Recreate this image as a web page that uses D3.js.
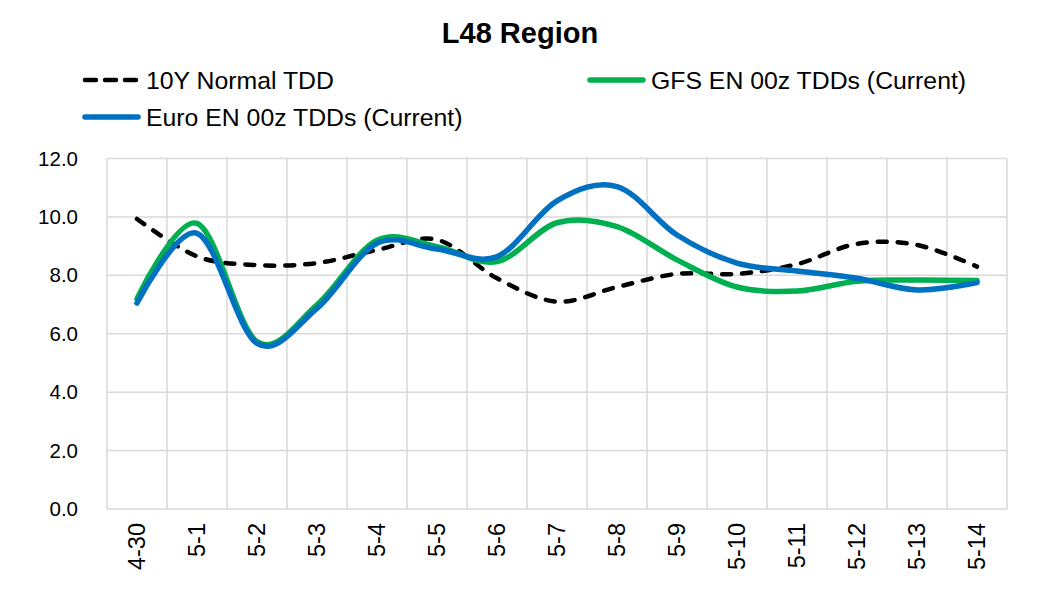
<!DOCTYPE html>
<html>
<head>
<meta charset="utf-8">
<script src="https://cdn.jsdelivr.net/npm/d3@7"></script>
<style>
  html, body { margin: 0; padding: 0; background: #fff; }
  svg { display: block; font-family: "Liberation Sans", Arial, sans-serif; }
</style>
</head>
<body>
<svg id="chart" width="1040" height="602"></svg>
<script>
const categories = ["4-30","5-1","5-2","5-3","5-4","5-5","5-6","5-7","5-8","5-9","5-10","5-11","5-12","5-13","5-14"];
const normalTDD = [9.93, 8.65, 8.35, 8.42, 8.87, 9.22, 7.9, 7.1, 7.6, 8.05, 8.05, 8.38, 9.08, 9.04, 8.3];
const gfsTDD    = [7.2, 9.78, 5.73, 6.99, 9.2, 8.98, 8.47, 9.8, 9.67, 8.53, 7.6, 7.46, 7.8, 7.84, 7.82];
const euroTDD   = [7.05, 9.44, 5.67, 6.87, 9.1, 8.9, 8.64, 10.55, 11.04, 9.38, 8.42, 8.15, 7.9, 7.5, 7.75];
const yTicks = [0, 2, 4, 6, 8, 10, 12];
const seriesNames = ["10Y Normal TDD", "GFS EN 00z TDDs (Current)", "Euro EN 00z TDDs (Current)"];

const svg = d3.select("#chart");
const x = d3.scaleBand().domain(categories).range([107, 1007]).padding(0);
const y = d3.scaleLinear().domain([0, 12]).range([509, 158.5]);
const cx = d => x(d) + x.bandwidth() / 2;

// gridlines
const grid = svg.append("g").attr("stroke", "#d9d9d9").attr("stroke-width", 1.5);
yTicks.forEach(t => {
  grid.append("line").attr("x1", 107).attr("x2", 1007).attr("y1", y(t)).attr("y2", y(t));
});
const edges = categories.map(c => x(c)).concat([x(categories[categories.length - 1]) + x.bandwidth()]);
edges.forEach(e => {
  grid.append("line").attr("x1", e).attr("x2", e).attr("y1", y(12)).attr("y2", y(0));
});

// y axis labels
const yAxis = d3.axisLeft(y).tickValues(yTicks).tickFormat(d3.format(".1f")).tickSize(0).tickPadding(29);
const ya = svg.append("g").attr("transform", "translate(107,0)").call(yAxis);
ya.select(".domain").remove();
ya.selectAll("text").attr("font-size", 20.5).attr("fill", "#000").attr("font-family", "Liberation Sans, Arial, sans-serif");

// x axis labels
const xa = svg.append("g");
categories.forEach(c => {
  xa.append("text")
    .attr("transform", `translate(${cx(c)},523) rotate(-90)`)
    .attr("text-anchor", "end")
    .attr("dominant-baseline", "central")
    .attr("font-size", 23.5)
    .attr("fill", "#000")
    .text(c);
});

// lines
const line = d3.line().x((d, i) => cx(categories[i])).y(d => y(d)).curve(d3.curveCatmullRom.alpha(0));
svg.append("path").datum(normalTDD).attr("d", line).attr("fill", "none")
  .attr("stroke", "#000").attr("stroke-width", 4.5).attr("stroke-dasharray", "9 11").attr("stroke-linecap", "round");
svg.append("path").datum(gfsTDD).attr("d", line).attr("fill", "none")
  .attr("stroke", "#00b050").attr("stroke-width", 5.5).attr("stroke-linecap", "round");
svg.append("path").datum(euroTDD).attr("d", line).attr("fill", "none")
  .attr("stroke", "#0070c0").attr("stroke-width", 5.5).attr("stroke-linecap", "round");

// title
svg.append("text").attr("x", 520).attr("y", 43).attr("text-anchor", "middle")
  .attr("font-size", 29).attr("font-weight", "bold").attr("fill", "#000").text("L48 Region");

// legend
const legend = [
  {name: seriesNames[0], x: 83, y: 80, color: "#000", dash: true},
  {name: seriesNames[1], x: 588, y: 80, color: "#00b050", dash: false},
  {name: seriesNames[2], x: 83, y: 117, color: "#0070c0", dash: false}
];
legend.forEach(l => {
  const ln = svg.append("line").attr("x1", l.x + 2).attr("x2", l.x + 55).attr("y1", l.y).attr("y2", l.y)
    .attr("stroke", l.color).attr("stroke-linecap", "round");
  if (l.dash) ln.attr("stroke-width", 4.5).attr("stroke-dasharray", "11 9");
  else ln.attr("stroke-width", 5.5);
  svg.append("text").attr("x", l.x + 63).attr("y", l.y).attr("dominant-baseline", "central")
    .attr("font-size", 24.8).attr("fill", "#000").text(l.name);
});
</script>
</body>
</html>
